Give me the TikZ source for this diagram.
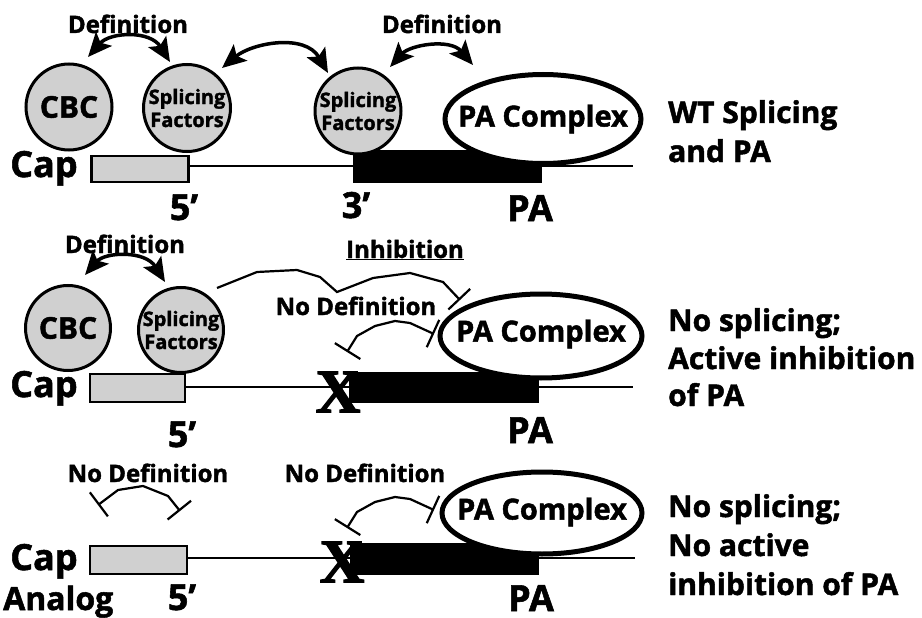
\documentclass[tikz,border=0pt]{standalone}
\usepackage{fontspec}
\setmainfont{Open Sans}[BoldFeatures={FakeBold=1.6}]
\newfontfamily\xfont{Liberation Serif}[BoldFeatures={FakeBold=2}]
\usetikzlibrary{shapes.geometric,arrows.meta}
\definecolor{stip}{RGB}{208,208,208}
\newcommand\fsz[1]{\fontsize{#1}{#1}\selectfont}
\begin{document}
\begin{tikzpicture}[x=1pt,y=-1pt,
 lab/.style={font=\bfseries\fsz{24}, inner sep=0pt, anchor=base},
 big/.style={font=\bfseries\fsz{36}, inner sep=0pt, anchor=base},
 capt/.style={font=\bfseries\fsz{36}, inner sep=0pt, anchor=base west},
 side/.style={font=\bfseries\fsz{30}, inner sep=0pt, anchor=base west},
 factor/.style={circle, draw, line width=3pt, fill=stip, inner sep=0pt, minimum size=#1},
 pacx/.style={ellipse, draw, line width=5pt, fill=white, inner sep=0pt},
 gbox/.style={rectangle, draw, line width=2.5pt, fill=stip, inner sep=0pt},
 bbox/.style={rectangle, fill=black, inner sep=0pt},
 rna/.style={line width=1.6pt},
 defarr/.style={line width=3.5pt, {Stealth[length=24pt,width=21pt,inset=5pt]}-{Stealth[length=24pt,width=21pt,inset=5pt]}},
 inhb/.style={line width=2.2pt, {Bar[width=30pt]}-{Bar[width=30pt]}},
 inhe/.style={line width=2.2pt, -{Bar[width=30pt]}},
 cbct/.style={font=\bfseries\fsz{30}, inner sep=0pt},
 sft/.style={font=\bfseries\fontsize{20}{23}\selectfont, align=center, inner sep=0pt},
 pat/.style={font=\bfseries\fsz{29}, inner sep=0pt},
 xm/.style={font=\xfont\bfseries\fsz{62}, inner sep=0pt}]
\fill[white] (0,0) rectangle (922,618);
\useasboundingbox (0,0) rectangle (922,618);

% ---------------- Row 1 ----------------
\coordinate (e1) at (633,166);
\node[gbox, minimum width=97pt, minimum height=26pt] (g1) at (140,169) {};
\draw[rna] (g1.east |- e1) -- (e1);
\node[bbox, minimum width=189pt, minimum height=33pt] (b1) at (447.5,166.5) {};
\node[pacx, minimum width=196pt, minimum height=89pt] (pa1) at (543,119) {};
\node[pat] (pa1t) at (pa1) {PA Complex};
\node[factor=86pt] (cbc1) at (69,107) {};
\node[cbct] (cbc1t) at (cbc1) {CBC};
\node[factor=87pt] (sf1) at (187,108) {};
\node[sft] (sf1t) at (sf1) {Splicing\\Factors};
\node[factor=86pt] (sf2) at (358,111) {};
\node[sft] (sf2t) at (sf2) {Splicing\\Factors};
\node[capt] (cap1) at (10,177) {Cap};
\node[big] (f1) at (184,220) {5’};
\node[big] (t1) at (356,218) {3’};
\node[big] (p1) at (530,221) {PA};
\node[lab] (d1) at (128,33) {Definition};
\node[lab] (d2) at (442,33) {Definition};
\coordinate (a1s) at (88,57); \coordinate (a1e) at (170,62);
\draw[defarr] (a1s) .. controls (110,32) and (150,30) .. (a1e);
\coordinate (a2s) at (222,68); \coordinate (a2e) at (328,73);
\draw[defarr] (a2s) .. controls (252,43) and (305,33) .. (a2e);
\coordinate (a3s) at (390,67); \coordinate (a3e) at (473,65);
\draw[defarr] (a3s) .. controls (410,45) and (450,38) .. (a3e);
\node[side] (r1a) at (668,123) {WT Splicing};
\node[side] (r1b) at (668,162) {and PA};

% ---------------- Row 2 ----------------
\coordinate (e2) at (633,387);
\node[gbox, minimum width=95pt, minimum height=28pt] (g2) at (137.5,388) {};
\draw[rna] (g2.east |- e2) -- (e2);
\node[bbox, minimum width=190pt, minimum height=31pt] (b2) at (444,387) {};
\node[pacx, minimum width=202pt, minimum height=84pt] (pa2) at (541,336) {};
\node[pat] (pa2t) at ([yshift=2pt]pa2.center) {PA Complex};
\node[factor=85pt] (cbc2) at (68,328) {};
\node[cbct] (cbc2t) at (cbc2) {CBC};
\node[factor=85pt] (sf3) at (181,330) {};
\node[sft] (sf3t) at (sf3) {Splicing\\Factors};
\node[xm] (x2) at (338,392) {X};
\node[capt] (cap2) at (10,397) {Cap};
\node[big] (f2) at (182,447) {5’};
\node[big] (p2) at (530,443) {PA};
\node[lab] (d3) at (125,253) {Definition};
\node[lab] (inh) at (405,258) {\underline{Inhibition}};
\node[lab] (nd1) at (356,315) {No Definition};
\coordinate (a4s) at (85,275); \coordinate (a4e) at (165,282);
\draw[defarr] (a4s) .. controls (105,252) and (145,250) .. (a4e);
\coordinate (i1s) at (217,288); \coordinate (i1e) at (460,300);
\draw[inhe] (i1s) -- (257,272) -- (297,270) -- (320,277) -- (337,292) -- (373,278) -- (410,273) -- (443,282) -- (i1e);
\coordinate (i2s) at (347,352); \coordinate (i2e) at (434,334);
\draw[inhb] (i2s) -- (357,336) -- (375,326) -- (395,321) -- (410,323) -- (i2e);
\node[side] (r2a) at (668,331) {No splicing;};
\node[side] (r2b) at (668,369) {Active inhibition};
\node[side] (r2c) at (668,406) {of PA};

% ---------------- Row 3 ----------------
\coordinate (e3) at (635,558);
\node[gbox, minimum width=97pt, minimum height=28pt] (g3) at (138.5,560) {};
\draw[rna] (g3.east |- e3) -- (e3);
\node[bbox, minimum width=189pt, minimum height=32pt] (b3) at (444.5,559) {};
\node[pacx, minimum width=200pt, minimum height=82pt] (pa3) at (542,513) {};
\node[pat] (pa3t) at ([yshift=1pt]pa3.center) {PA Complex};
\node[xm] (x3) at (342,562) {X};
\node[capt] (cap3) at (10,570) {Cap};
\node[capt, font=\bfseries\fsz{32}] (an3) at (3,610) {Analog};
\node[big] (f3) at (182,610) {5’};
\node[big] (p3) at (531,611) {PA};
\node[lab] (nd2) at (148,482) {No Definition};
\node[lab] (nd3) at (365,482) {No Definition};
\coordinate (i3s) at (98,505); \coordinate (i3e) at (180,511);
\draw[inhb] (i3s) -- (118,490) -- (143,486) -- (168,496) -- (i3e);
\coordinate (i4s) at (347,528); \coordinate (i4e) at (434,510);
\draw[inhb] (i4s) -- (357,512) -- (375,502) -- (395,497) -- (410,499) -- (i4e);
\node[side] (r3a) at (668,517) {No splicing;};
\node[side] (r3b) at (668,556) {No active};
\node[side] (r3c) at (668,595) {inhibition of PA};
\end{tikzpicture}
\end{document}
